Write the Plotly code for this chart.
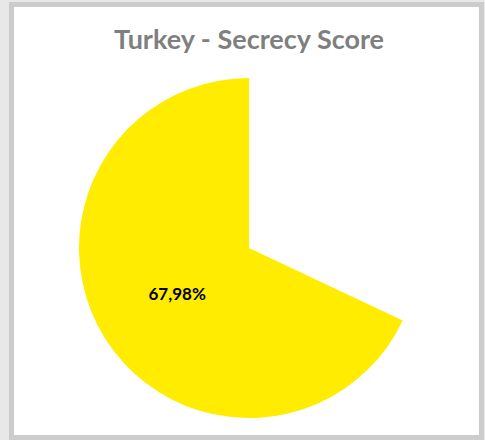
import plotly.graph_objects as go

labels = ["Remainder", "Secrecy Score"]
values = [32.02, 67.98]
slice_text = ["", "67,98%"]
colors = ["rgba(255,255,255,0)", "#ffec00"]

fig = go.Figure()
fig.add_trace(go.Pie(
    labels=labels, values=values, text=slice_text,
    textinfo="text", textposition="inside", insidetextorientation="horizontal",
    sort=False, direction="clockwise", rotation=0,
    marker=dict(colors=colors, line=dict(width=0)),
    textfont=dict(family="Lato", size=17, color="#000000", weight="bold"),
    hoverinfo="label+percent", showlegend=False,
    domain=dict(x=[79/485, 419/485], y=[22/440, 362/440]),
))

fig.update_layout(
    width=485, height=440,
    margin=dict(l=0, r=0, t=0, b=0),
    paper_bgcolor="#e8e8e8",
    shapes=[dict(type="rect", xref="paper", yref="paper",
                 x0=11.5/485, x1=481.5/485, y0=1 - 437.5/440, y1=1 - 4.5/440,
                 fillcolor="#ffffff", line=dict(color="#cccccc", width=5), layer="below")],
    title=dict(text="<b>Turkey - Secrecy Score</b>", x=249/485, xanchor="center",
               y=1 - 40/440, yanchor="middle",
               font=dict(family="Lato", size=27, color="#7f7f7f")),
)

fig.write_html("out.html", config={"displayModeBar": False},
               post_script="document.body.style.margin='0px';")
